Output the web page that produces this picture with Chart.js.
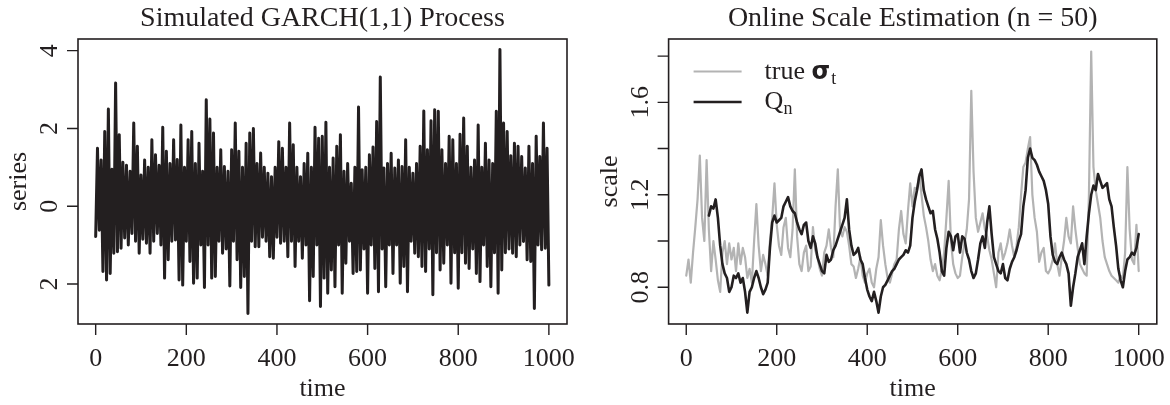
<!DOCTYPE html>
<html>
<head>
<meta charset="utf-8">
<script src="https://cdn.jsdelivr.net/npm/chart.js@4.4.1/dist/chart.umd.min.js"></script>
<style>
html,body{margin:0;padding:0;background:#ffffff;}
#wrap{position:relative;width:1170px;height:405px;overflow:hidden;background:#ffffff;}
canvas{position:absolute;top:0;}
#c1{left:0;}
#c2{left:585px;}
</style>
</head>
<body>
<div id="wrap">
<canvas id="c1" width="585" height="405"></canvas>
<canvas id="c2" width="585" height="405"></canvas>
</div>
<script>
// ---------------- data ----------------
// Left panel: simulated GARCH(1,1) series, one value every 4 time steps (t = 0..1000)
const seriesStep = 4;
const seriesValues = [
  -0.78,1.49,-0.62,1.19,-1.68,1.92,-1.9,2.5,-1.73,0.95,
  -1.21,3.17,-1.17,1.84,-1.08,1.13,-0.82,1.05,-1.0,0.9,
  -0.7,2.14,-0.9,1.54,-1.21,0.8,-0.85,1.19,-0.95,1.0,
  -1.21,1.71,-0.9,1.32,-0.7,1.05,-1.0,2.03,-1.85,1.41,
  -1.38,1.1,-0.9,1.71,-0.87,1.2,-1.9,2.09,-2.03,1.0,
  -0.9,1.71,-1.42,1.92,-1.98,1.1,-1.85,1.62,-1.0,0.9,
  -2.09,2.74,-1.0,2.24,-1.85,1.88,-1.81,1.0,-0.9,1.45,
  -1.21,1.02,-1.1,0.9,-2.05,1.45,-0.9,2.14,-1.38,1.41,
  -2.09,1.0,-1.81,1.62,-2.76,1.88,-0.9,2.0,-1.04,1.1,
  -1.04,1.37,-0.8,1.0,-0.9,0.85,-1.3,0.76,-1.34,1.0,
  -0.8,1.66,-0.95,1.49,-0.9,1.0,-1.3,2.14,-0.9,1.58,
  -1.55,1.0,-0.9,0.76,-1.34,1.1,-1.0,1.36,-2.43,1.0,
  -1.81,2.03,-1.0,1.75,-2.58,1.8,-1.85,2.16,-2.24,1.0,
  -1.64,1.24,-2.07,1.54,-1.0,1.84,-2.24,0.9,-1.47,1.1,
  -0.9,0.59,-1.73,1.0,-1.68,2.55,-1.64,0.94,-1.1,1.0,
  -2.24,1.32,-1.0,1.52,-1.6,2.18,-2.2,3.32,-1.1,0.98,
  -2.07,1.1,-1.0,1.36,-1.73,0.98,-1.0,1.19,-1.98,1.02,
  -1.55,1.71,-2.2,1.0,-0.9,0.85,-1.21,1.1,-1.3,1.54,
  -1.55,2.45,-1.68,1.45,-1.1,2.2,-2.28,2.48,-1.2,2.44,
  -1.64,1.45,-1.47,1.1,-1.0,1.8,-1.98,1.71,-1.2,1.1,
  -2.11,1.85,-1.2,2.27,-1.47,1.54,-1.6,1.0,-1.1,1.19,
  -1.73,2.09,-1.94,1.0,-1.0,1.62,-1.55,1.19,-2.07,1.1,
  -1.2,2.44,-2.24,4.03,-1.64,2.14,-1.2,1.92,-1.1,1.3,
  -1.21,1.62,-1.3,1.54,-1.0,1.28,-0.91,0.98,-1.38,1.54,
  -1.42,1.1,-2.63,1.8,-1.0,1.28,-1.12,2.14,-1.08,1.49,
  -2.03
];

// Right panel: true sigma_t, one value every 5 time steps (t = 0..1000)
const sigmaStep = 5;
const sigmaValues = [
  0.85,0.92,0.82,0.95,1.06,1.18,1.37,1.10,1.00,1.35,
  1.05,0.87,1.00,0.92,0.83,0.78,0.95,1.00,0.90,0.99,
  0.92,0.97,0.87,0.99,0.90,0.97,0.93,0.84,0.88,0.82,
  1.00,1.16,0.98,0.87,0.94,0.90,0.85,1.00,1.10,1.25,
  1.07,0.98,0.94,1.06,1.10,0.97,0.93,1.05,1.31,1.02,
  0.90,0.87,0.95,0.98,0.87,0.89,1.06,0.96,0.93,0.88,
  0.85,0.95,0.98,1.05,0.97,0.93,1.15,1.31,1.05,1.02,
  1.06,1.04,0.98,0.90,0.89,0.84,0.88,0.93,0.85,0.82,
  0.86,0.88,0.82,0.80,0.88,0.93,1.09,0.98,0.90,0.84,
  0.82,0.86,0.90,0.92,1.05,1.13,1.03,0.99,1.13,1.25,
  1.15,1.23,1.22,1.29,1.20,1.11,1.06,1.00,0.92,0.87,
  0.90,0.85,0.83,0.88,0.95,1.10,1.26,1.00,0.90,0.86,
  0.84,0.85,0.93,0.99,1.05,1.18,1.65,1.30,1.10,1.04,
  1.08,1.12,1.05,1.02,0.96,0.92,0.86,0.80,0.95,0.99,
  0.92,0.95,0.99,1.05,0.98,0.93,0.98,1.06,1.20,1.32,
  1.34,1.40,1.45,1.20,1.10,1.04,0.91,0.95,0.97,0.87,
  0.86,0.88,0.92,0.99,0.90,0.85,0.93,1.00,1.10,1.02,
  0.99,1.15,1.05,0.97,0.90,0.88,0.86,0.85,1.20,1.82,
  1.32,1.22,1.16,1.10,1.00,0.93,0.90,0.87,0.85,0.84,
  0.83,0.82,0.85,0.84,0.95,1.32,1.05,0.92,0.90,1.07,
  0.87
];

// Right panel: online Qn estimate, one value every 5 time steps (t = 50..1000)
const qnStart = 50;
const qnStep = 5;
const qnValues = [
  1.11,1.15,1.14,1.18,1.10,0.98,0.90,0.86,0.84,0.78,
  0.80,0.85,0.84,0.86,0.82,0.84,0.78,0.69,0.78,0.80,
  0.84,0.87,0.84,0.80,0.77,0.79,0.82,0.97,1.08,1.11,
  1.08,1.09,1.10,1.15,1.17,1.19,1.15,1.13,1.12,1.08,
  1.05,1.03,1.07,1.08,1.00,0.97,1.02,0.99,0.93,0.90,
  0.87,0.86,0.94,0.91,0.92,0.96,0.98,1.01,1.04,1.07,
  1.10,1.18,1.05,0.98,0.94,0.95,0.97,0.92,0.90,0.84,
  0.79,0.76,0.74,0.78,0.74,0.69,0.76,0.80,0.81,0.83,
  0.85,0.87,0.88,0.90,0.92,0.93,0.94,0.96,0.95,0.98,
  1.10,1.17,1.22,1.28,1.31,1.22,1.18,1.15,1.12,1.13,
  1.05,1.01,0.95,0.87,0.85,0.97,1.04,1.02,0.96,1.02,
  1.03,0.95,1.02,1.01,0.95,0.92,0.87,0.84,0.86,0.92,
  0.99,1.02,0.97,1.08,1.15,1.03,0.93,0.90,0.87,0.86,
  0.90,0.84,0.83,0.88,0.91,0.93,0.96,1.00,1.03,1.15,
  1.22,1.36,1.40,1.36,1.35,1.33,1.30,1.28,1.26,1.22,
  1.16,1.02,0.94,0.91,0.90,0.93,0.95,0.92,0.90,0.86,
  0.72,0.80,0.86,0.93,0.96,0.99,0.90,1.02,1.12,1.20,
  1.24,1.22,1.29,1.26,1.23,1.24,1.25,1.18,1.15,1.06,
  0.98,0.88,0.83,0.80,0.87,0.92,0.93,0.95,0.94,0.97,
  1.03
];

// ticks and labels
const xTicks = [0, 200, 400, 600, 800, 1000];
const xTickLabels = ['0', '200', '400', '600', '800', '1000'];
const leftYTicks = [-2, 0, 2, 4];
const leftYTickLabels = ['2', '0', '2', '4'];
const rightYTicks = [0.8, 1.0, 1.2, 1.4, 1.6, 1.8];
const rightYTickLabels = ['0.8', '', '1.2', '', '1.6', ''];

// ---------------- styling ----------------
const INK = '#231f20';
const GRAY = '#b3b3b3';
const SERIF = '"Liberation Serif", "Times New Roman", serif';

function toPoints(values, start, step) {
  return values.map((v, i) => ({ x: start + i * step, y: v }));
}

function rFramePlugin(cfg) {
  return {
    id: 'rFrame',
    afterDatasetsDraw(chart) {
      const ctx = chart.ctx, a = chart.chartArea;
      const xs = chart.scales.x, ys = chart.scales.y;
      ctx.save();
      ctx.strokeStyle = INK;
      ctx.fillStyle = INK;
      ctx.lineWidth = 1.6;
      ctx.strokeRect(a.left, a.top, a.right - a.left, a.bottom - a.top);
      const tl = 11;
      ctx.lineWidth = 1.4;
      ctx.beginPath();
      cfg.xTicks.forEach(v => {
        const px = xs.getPixelForValue(v);
        ctx.moveTo(px, a.bottom); ctx.lineTo(px, a.bottom + tl);
      });
      cfg.yTicks.forEach(v => {
        const py = ys.getPixelForValue(v);
        ctx.moveTo(a.left, py); ctx.lineTo(a.left - tl, py);
      });
      ctx.stroke();

      ctx.font = '26px ' + SERIF;
      ctx.textAlign = 'center';
      ctx.textBaseline = 'alphabetic';
      cfg.xTicks.forEach((v, i) => {
        ctx.fillText(cfg.xLabels[i], xs.getPixelForValue(v), a.bottom + 42);
      });
      cfg.yTicks.forEach((v, i) => {
        if (!cfg.yLabels[i]) return;
        ctx.save();
        ctx.translate(a.left - 21, ys.getPixelForValue(v));
        ctx.rotate(-Math.PI / 2);
        ctx.fillText(cfg.yLabels[i], 0, 0);
        ctx.restore();
      });
      ctx.fillText(cfg.xTitle, (a.left + a.right) / 2, a.bottom + 72);
      ctx.save();
      ctx.translate(a.left - 52, (a.top + a.bottom) / 2);
      ctx.rotate(-Math.PI / 2);
      ctx.fillText(cfg.yTitle, 0, 0);
      ctx.restore();

      ctx.font = '28px ' + SERIF;
      ctx.fillText(cfg.title, (a.left + a.right) / 2, 26);
      ctx.restore();
    }
  };
}

const legendPlugin = {
  id: 'rLegend',
  afterDatasetsDraw(chart) {
    const ctx = chart.ctx, a = chart.chartArea;
    const x0 = a.left + 25, x1 = a.left + 73, tx = a.left + 96;
    const rows = [
      { y: a.top + 32.5, color: GRAY, main: 'true ', sym: 'σ', sub: 't', width: 2 },
      { y: a.top + 63, color: INK, main: 'Q', sym: '', sub: 'n', width: 2.6 }
    ];
    ctx.save();
    rows.forEach(r => {
      ctx.strokeStyle = r.color;
      ctx.lineWidth = r.width;
      ctx.beginPath(); ctx.moveTo(x0, r.y); ctx.lineTo(x1, r.y); ctx.stroke();
      ctx.fillStyle = INK;
      ctx.textAlign = 'left';
      ctx.textBaseline = 'alphabetic';
      let x = tx;
      const base = r.y + 7;
      ctx.font = '26px ' + SERIF;
      ctx.fillText(r.main, x, base);
      x += ctx.measureText(r.main).width;
      if (r.sym) {
        ctx.font = 'bold 24px "DejaVu Sans", sans-serif';
        ctx.fillText(r.sym, x, base);
        x += ctx.measureText(r.sym).width + 1;
      }
      ctx.font = '18px ' + SERIF;
      ctx.fillText(r.sub, x, base + 5);
    });
    ctx.restore();
  }
};

const commonOptions = (pad, xMin, xMax, yMin, yMax) => ({
  responsive: false,
  animation: false,
  devicePixelRatio: 1,
  events: [],
  layout: { padding: pad },
  plugins: { legend: { display: false }, tooltip: { enabled: false }, title: { display: false } },
  scales: {
    x: { type: 'linear', min: xMin, max: xMax, display: false },
    y: { type: 'linear', min: yMin, max: yMax, display: false }
  },
  elements: { point: { radius: 0 }, line: { tension: 0, borderJoinStyle: 'round', borderCapStyle: 'round' } }
});

new Chart(document.getElementById('c1'), {
  type: 'line',
  data: {
    datasets: [{
      label: 'series',
      data: toPoints(seriesValues, 0, seriesStep),
      borderColor: INK,
      borderWidth: 3,
      pointRadius: 0,
      fill: false
    }]
  },
  options: commonOptions({ left: 78, right: 18, top: 39, bottom: 81 }, -39, 1040, -3.03, 4.30),
  plugins: [rFramePlugin({
    xTicks: xTicks, xLabels: xTickLabels,
    yTicks: leftYTicks, yLabels: leftYTickLabels,
    xTitle: 'time', yTitle: 'series',
    title: 'Simulated GARCH(1,1) Process'
  })]
});

new Chart(document.getElementById('c2'), {
  type: 'line',
  data: {
    datasets: [
      {
        label: 'Qn',
        data: toPoints(qnValues, qnStart, qnStep),
        borderColor: INK,
        borderWidth: 2.6,
        pointRadius: 0,
        fill: false,
        order: 0
      },
      {
        label: 'true sigma_t',
        data: toPoints(sigmaValues, 0, sigmaStep),
        borderColor: GRAY,
        borderWidth: 2.2,
        pointRadius: 0,
        fill: false,
        order: 1
      }
    ]
  },
  options: commonOptions({ left: 83.6, right: 13.2, top: 39, bottom: 81 }, -39, 1040, 0.641, 1.874),
  plugins: [rFramePlugin({
    xTicks: xTicks, xLabels: xTickLabels,
    yTicks: rightYTicks, yLabels: rightYTickLabels,
    xTitle: 'time', yTitle: 'scale',
    title: 'Online Scale Estimation (n = 50)'
  }), legendPlugin]
});
</script>
</body>
</html>
